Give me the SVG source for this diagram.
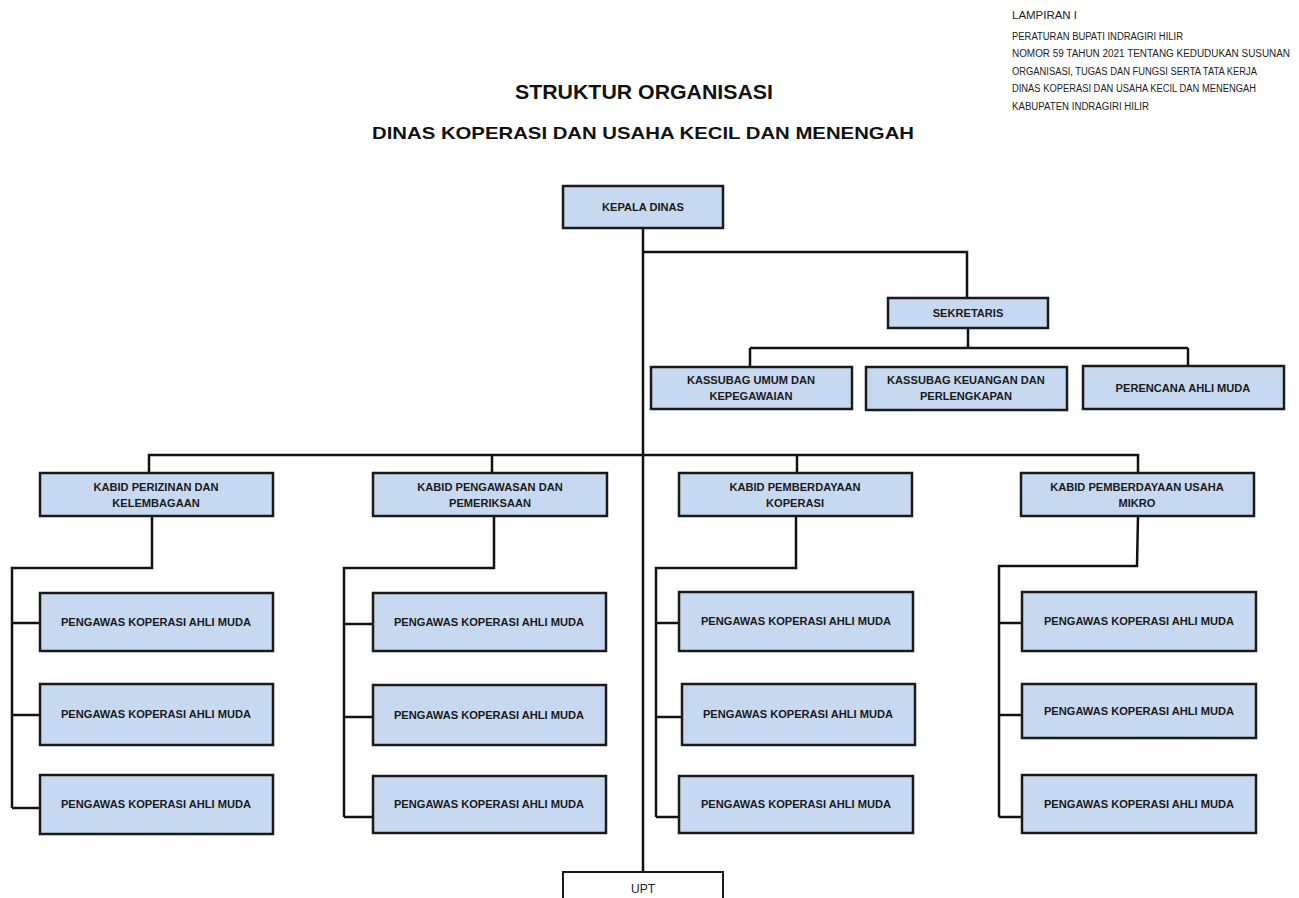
<svg xmlns="http://www.w3.org/2000/svg" width="1299" height="898" viewBox="0 0 1299 898">
<style>
.box{fill:#c6d9f1;stroke:#1a1a1a;stroke-width:2.5}
.upt{fill:#ffffff;stroke:#1a1a1a;stroke-width:2}
.t{font-family:"Liberation Sans",Arial,sans-serif;font-weight:bold;font-size:11.1px;fill:#1a1a1a;text-anchor:middle}
.hd{font-family:"Liberation Sans",Arial,sans-serif;font-size:10px;fill:#222}
.title{font-family:"Liberation Sans",Arial,sans-serif;font-weight:bold;fill:#111;text-anchor:middle}
#connectors path{fill:none;stroke:#111;stroke-width:2.5}
</style>
<rect width="1299" height="898" fill="#ffffff"/>
<g id="header">
<text class="hd" x="1012" y="19" textLength="65" lengthAdjust="spacingAndGlyphs">LAMPIRAN I</text>
<text class="hd" x="1012" y="40" textLength="171" lengthAdjust="spacingAndGlyphs">PERATURAN BUPATI INDRAGIRI HILIR</text>
<text class="hd" x="1012" y="57" textLength="278" lengthAdjust="spacingAndGlyphs">NOMOR 59 TAHUN 2021 TENTANG KEDUDUKAN SUSUNAN</text>
<text class="hd" x="1012" y="75" textLength="245" lengthAdjust="spacingAndGlyphs">ORGANISASI, TUGAS DAN FUNGSI SERTA TATA KERJA</text>
<text class="hd" x="1012" y="92" textLength="244" lengthAdjust="spacingAndGlyphs">DINAS KOPERASI DAN USAHA KECIL DAN MENENGAH</text>
<text class="hd" x="1012" y="110" textLength="137" lengthAdjust="spacingAndGlyphs">KABUPATEN INDRAGIRI HILIR</text>
<text class="title" x="644" y="99" font-size="20" textLength="258" lengthAdjust="spacingAndGlyphs">STRUKTUR ORGANISASI</text>
<text class="title" x="643" y="139" font-size="17" textLength="542" lengthAdjust="spacingAndGlyphs">DINAS KOPERASI DAN USAHA KECIL DAN MENENGAH</text>
</g>
<g id="connectors">
<path d="M643 228 V872"/>
<path d="M643 252 H967 V298"/>
<path d="M968 328 V348 M750 348 H1188 M750 348 V367 M1188 348 V366"/>
<path d="M149 473 V455 H1138 V473 M492 455 V473 M797 455 V473"/>
<path d="M152 516 V568 H12 V808 M12 623 H40 M12 715 H40 M12 808 H40"/>
<path d="M494 516 V568 H344 V817 M344 624 H373 M344 717 H373 M344 817 H373"/>
<path d="M796 516 V568 H656 V817 M656 623 H679 M656 717 H682 M656 817 H679"/>
<path d="M1138 516 L1137 566 H999 V817 M999 623 H1022 M999 715 H1022 M999 817 H1022"/>
</g>
<g id="kepala"><rect class="box" x="563" y="186" width="160" height="42"/><text class="t" x="643" y="211">KEPALA DINAS</text></g>
<g id="sekretaris"><rect class="box" x="888" y="298" width="160" height="30"/><text class="t" x="968" y="317">SEKRETARIS</text></g>
<g id="kassubag-umum"><rect class="box" x="651" y="367" width="201" height="42"/><text class="t" x="751" y="384">KASSUBAG UMUM DAN</text><text class="t" x="751" y="400">KEPEGAWAIAN</text></g>
<g id="kassubag-keuangan"><rect class="box" x="866" y="367" width="201" height="43"/><text class="t" x="966" y="384">KASSUBAG KEUANGAN DAN</text><text class="t" x="966" y="400">PERLENGKAPAN</text></g>
<g id="perencana"><rect class="box" x="1083" y="366" width="201" height="43"/><text class="t" x="1183" y="392">PERENCANA AHLI MUDA</text></g>
<g id="kabid-perizinan"><rect class="box" x="40" y="473" width="233" height="43"/><text class="t" x="156" y="491">KABID PERIZINAN DAN</text><text class="t" x="156" y="507">KELEMBAGAAN</text></g>
<g id="kabid-pengawasan"><rect class="box" x="373" y="473" width="234" height="43"/><text class="t" x="490" y="491">KABID PENGAWASAN DAN</text><text class="t" x="490" y="507">PEMERIKSAAN</text></g>
<g id="kabid-koperasi"><rect class="box" x="679" y="473" width="233" height="43"/><text class="t" x="795" y="491">KABID PEMBERDAYAAN</text><text class="t" x="795" y="507">KOPERASI</text></g>
<g id="kabid-mikro"><rect class="box" x="1021" y="473" width="233" height="43"/><text class="t" x="1137" y="491">KABID PEMBERDAYAAN USAHA</text><text class="t" x="1137" y="507">MIKRO</text></g>
<g id="p1a"><rect class="box" x="40" y="593" width="233" height="58"/><text class="t" x="156" y="626">PENGAWAS KOPERASI AHLI MUDA</text></g>
<g id="p1b"><rect class="box" x="40" y="684" width="233" height="61"/><text class="t" x="156" y="718">PENGAWAS KOPERASI AHLI MUDA</text></g>
<g id="p1c"><rect class="box" x="40" y="775" width="233" height="59"/><text class="t" x="156" y="808">PENGAWAS KOPERASI AHLI MUDA</text></g>
<g id="p2a"><rect class="box" x="373" y="593" width="233" height="58"/><text class="t" x="489" y="626">PENGAWAS KOPERASI AHLI MUDA</text></g>
<g id="p2b"><rect class="box" x="373" y="685" width="233" height="60"/><text class="t" x="489" y="719">PENGAWAS KOPERASI AHLI MUDA</text></g>
<g id="p2c"><rect class="box" x="373" y="776" width="233" height="57"/><text class="t" x="489" y="808">PENGAWAS KOPERASI AHLI MUDA</text></g>
<g id="p3a"><rect class="box" x="679" y="592" width="234" height="59"/><text class="t" x="796" y="625">PENGAWAS KOPERASI AHLI MUDA</text></g>
<g id="p3b"><rect class="box" x="682" y="684" width="233" height="61"/><text class="t" x="798" y="718">PENGAWAS KOPERASI AHLI MUDA</text></g>
<g id="p3c"><rect class="box" x="679" y="776" width="234" height="57"/><text class="t" x="796" y="808">PENGAWAS KOPERASI AHLI MUDA</text></g>
<g id="p4a"><rect class="box" x="1022" y="592" width="234" height="59"/><text class="t" x="1139" y="625">PENGAWAS KOPERASI AHLI MUDA</text></g>
<g id="p4b"><rect class="box" x="1022" y="684" width="234" height="54"/><text class="t" x="1139" y="715">PENGAWAS KOPERASI AHLI MUDA</text></g>
<g id="p4c"><rect class="box" x="1022" y="775" width="234" height="58"/><text class="t" x="1139" y="808">PENGAWAS KOPERASI AHLI MUDA</text></g>
<g id="upt"><rect class="upt" x="563" y="872" width="160" height="40"/><text x="643" y="893" font-family="'Liberation Sans',Arial,sans-serif" font-size="12" fill="#222" text-anchor="middle">UPT</text></g>
</svg>
